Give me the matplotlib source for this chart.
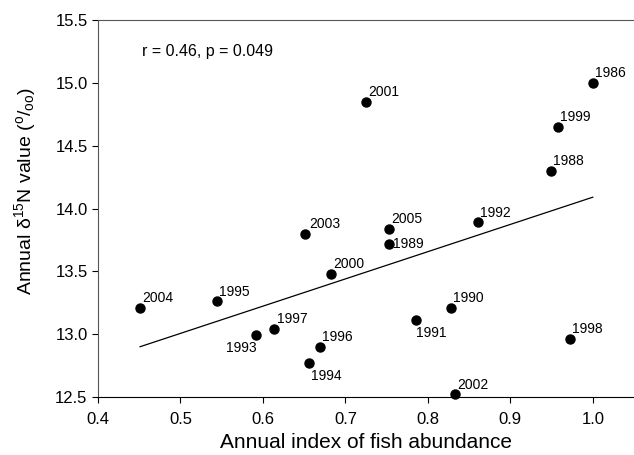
import numpy as np
import matplotlib
matplotlib.use("Agg")
import matplotlib.pyplot as plt

plt.rcParams['font.family'] = ['Liberation Sans', 'DejaVu Sans']
plt.rcParams['mathtext.fontset'] = 'custom'
plt.rcParams['mathtext.rm'] = 'Liberation Sans'
plt.rcParams['mathtext.it'] = 'Liberation Sans'

# Data
years = ['2004', '1995', '1993', '1997', '1994', '2003', '1996', '2000', '2005', '1989',
         '1991', '1990', '2002', '1998', '1992', '2001', '1986', '1999', '1988']
fish_index = [0.451, 0.544, 0.591, 0.614, 0.656, 0.651, 0.669, 0.683, 0.753, 0.753,
              0.786, 0.828, 0.833, 0.972, 0.861, 0.725, 1.000, 0.958, 0.949]
d15n = [13.21, 13.26, 12.99, 13.04, 12.77, 13.80, 12.90, 13.48, 13.84, 13.72,
        13.11, 13.21, 12.52, 12.96, 13.89, 14.85, 15.00, 14.65, 14.30]

# regression line ends
fit_x = [0.451, 1.0]
fit_y = [12.90, 14.09]

# label placement (offset in points, ha, va)
label_pos = {
    '1993': ((1, -4), 'right', 'top'),
    '1994': ((1, -4), 'left', 'top'),
    '1989': ((3, 0), 'left', 'center'),
    '1991': ((0, -4), 'left', 'top'),
    '2003': ((3, 2), 'left', 'bottom'),
}

fig = plt.figure(figsize=(6.34, 4.55), dpi=100)
ax = fig.add_axes([0.1546, 0.1275, 0.8454, 0.8285])

ax.plot(fit_x, fit_y, color='black', lw=0.9)
ax.plot(fish_index, d15n, 'o', color='black', markersize=6.5, clip_on=False, zorder=3)

for yr, x, y in zip(years, fish_index, d15n):
    off, ha, va = label_pos.get(yr, ((1.5, 2), 'left', 'bottom'))
    ax.annotate(yr, (x, y), xytext=off, textcoords='offset points',
                ha=ha, va=va, fontsize=10)

ax.text(0.453, 15.25, 'r = 0.46, p = 0.049', fontsize=11.5, ha='left', va='center')

ax.set_xlim(0.4, 1.05)
ax.set_ylim(12.5, 15.5)
ax.set_xticks([0.4, 0.5, 0.6, 0.7, 0.8, 0.9, 1.0])
ax.set_yticks([12.5, 13.0, 13.5, 14.0, 14.5, 15.0, 15.5])
ax.xaxis.set_major_formatter(matplotlib.ticker.FormatStrFormatter('%.1f'))
ax.yaxis.set_major_formatter(matplotlib.ticker.FormatStrFormatter('%.1f'))
ax.tick_params(direction='out', length=4, labelsize=12, width=0.8)
ax.tick_params(axis='x', pad=7)
ax.spines['right'].set_visible(False)
for s in ['left', 'bottom', 'top']:
    ax.spines[s].set_linewidth(0.8)
ax.spines['top'].set_color('#555555')
ax.spines['left'].set_color('#555555')

ax.set_xlabel('Annual index of fish abundance', fontsize=15, labelpad=4)
ax.set_ylabel('Annual δ$^{15}$N value ($^{o}$/$_{oo}$)', fontsize=14)
ax.yaxis.set_label_coords(-0.112, 0.545)

fig.savefig('out.png', dpi=100)
